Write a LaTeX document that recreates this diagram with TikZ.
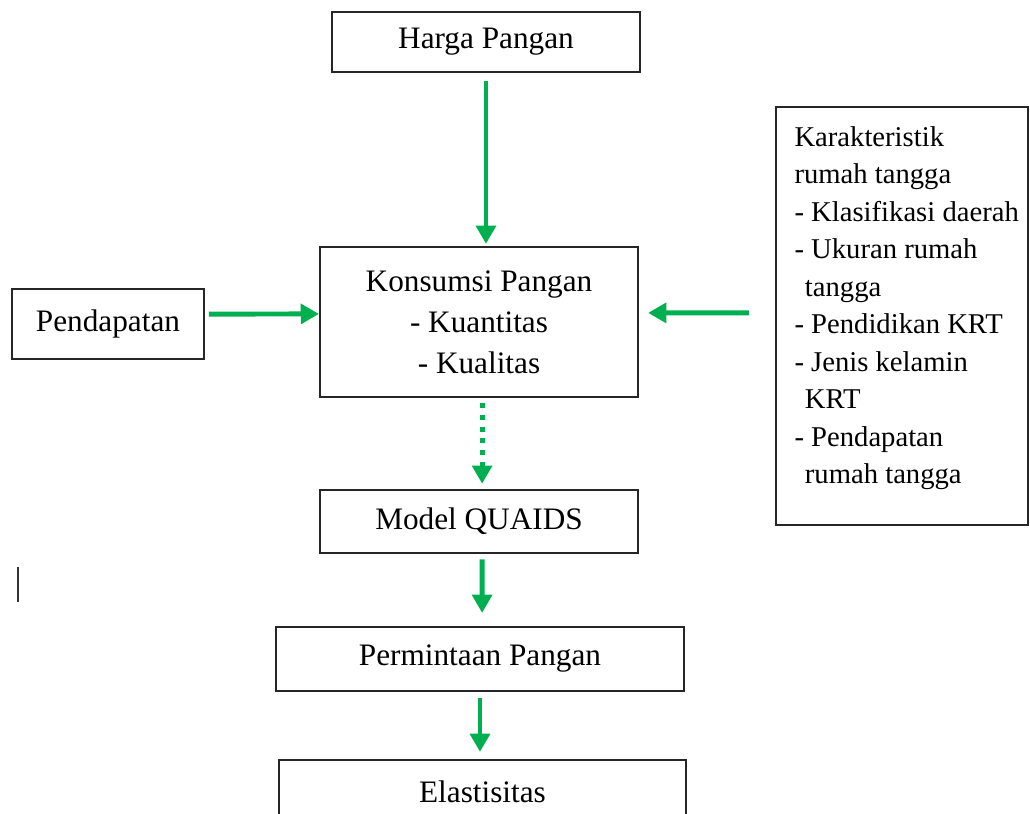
\documentclass[tikz,border=0pt]{standalone}
\usepackage{fontspec}
\setmainfont{Liberation Serif}
\usetikzlibrary{arrows.meta}
\definecolor{flowgreen}{HTML}{00B050}
\tikzset{
  box/.style={draw=black!85, line width=0.8pt, inner sep=0pt, align=center, minimum width=#1},
  flow/.style={draw=flowgreen, line width=1.9pt, -{Triangle[width=7.5pt,length=7pt]}},
  dotflow/.style={flow, dash pattern=on 1.9pt off 2.6pt},
}
\begin{document}
\begin{tikzpicture}[x=0.384pt, y=-0.384pt, font=\fontsize{12}{14.4}\selectfont]
    \clip (0,0) rectangle (1030,814);
    \fill[white] (0,0) rectangle (1030,814);

    % boxes
    \node[box=118.3pt, minimum height=23pt] (harga) at (486,42) {Harga Pangan};
    \node[box=122.1pt, minimum height=57.6pt, font=\fontsize{12}{15.7}\selectfont] (konsumsi) at (479,322)
      {Konsumsi Pangan\\- Kuantitas\\- Kualitas};
    \node[box=73.7pt, minimum height=26.9pt] (pendapatan) at (108,324) {Pendapatan};
    \node[box=96.8pt, minimum height=160.5pt] (krt) at (902,316) {};
    \node[anchor=north west, inner sep=0pt, align=left, font=\fontsize{11}{14.4}\selectfont] (krttext) at (794,126)
      {Karakteristik\\rumah tangga\\- Klasifikasi daerah\\- Ukuran rumah\\\hspace*{4pt}tangga\\
       - Pendidikan KRT\\- Jenis kelamin\\\hspace*{4pt}KRT\\- Pendapatan\\\hspace*{4pt}rumah tangga};
    \node[box=122.1pt, minimum height=24.2pt] (model) at (479,521.5) {Model QUAIDS};
    \node[box=156.7pt, minimum height=24.6pt] (permintaan) at (480,659) {Permintaan Pangan};
    \node[box=156.3pt, minimum height=24.6pt] (elastisitas) at (482.5,792) {Elastisitas};

    % arrows
    \draw[flow, shorten <=3pt, shorten >=0.8pt] (harga) -- (harga |- konsumsi.north);
    \draw[flow, shorten <=1.5pt] ([yshift=3.8pt]pendapatan.east) -- ([yshift=3.1pt]konsumsi.west);
    \draw[flow, shorten <=10pt, shorten >=3.5pt] ([yshift=1.2pt]krt.west) -- ([yshift=3.5pt]konsumsi.east);
    \draw[dotflow, shorten <=2pt, shorten >=2pt] ([xshift=1.2pt]konsumsi.south) -- ([xshift=1.2pt]model.north);
    \draw[flow, shorten <=2pt, shorten >=5pt] ([xshift=1.2pt]model.south) -- ([xshift=0.8pt]permintaan.north);
    \draw[flow, shorten <=2.3pt, shorten >=2.7pt] (permintaan) -- (permintaan |- elastisitas.north);

    \draw[black!80, line width=0.8pt] (18,567) -- (18,602);
  \end{tikzpicture}
\end{document}
